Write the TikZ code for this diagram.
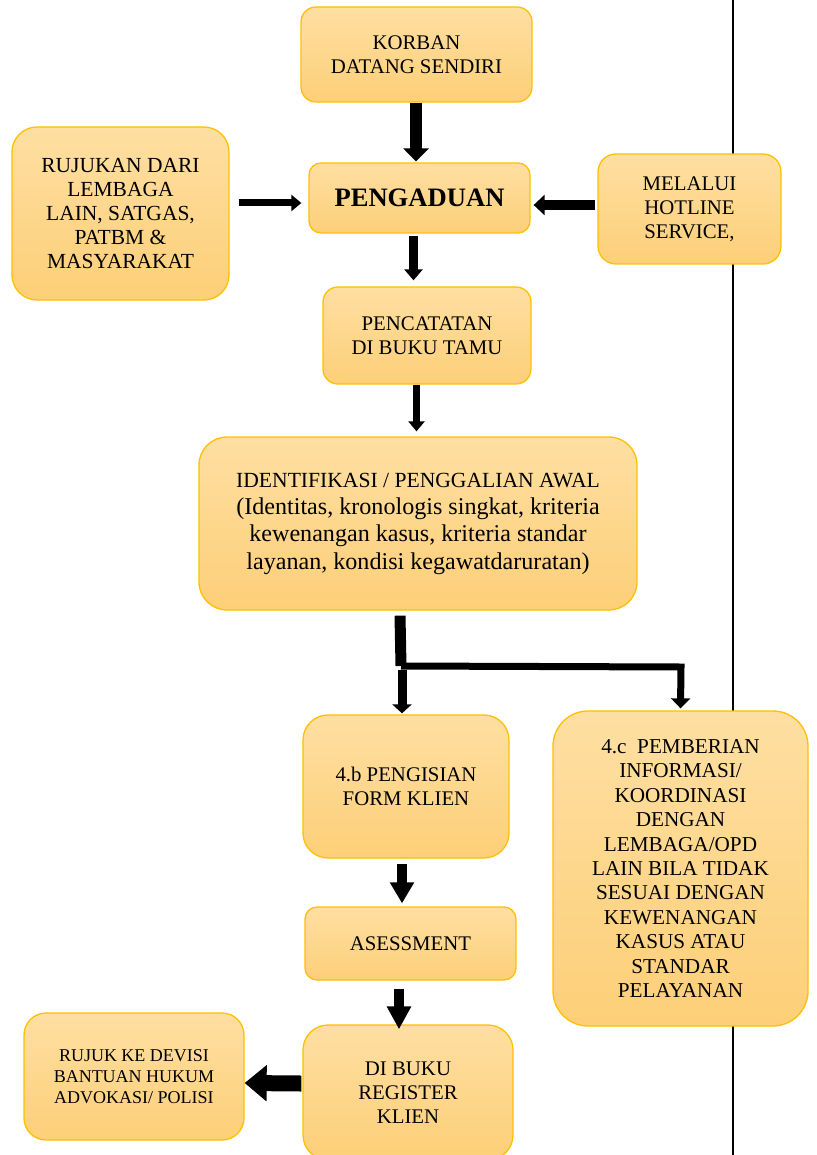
\documentclass[tikz,border=0pt]{standalone}
\usepackage{fontspec}
\setmainfont{Liberation Serif}
\usetikzlibrary{arrows.meta}
\definecolor{boxtop}{HTML}{FEDFA2}
\definecolor{boxbot}{HTML}{FDCF78}
\definecolor{boxline}{HTML}{FFC000}
\tikzset{
  box/.style={draw=boxline, line width=1.3pt, top color=boxtop, bottom color=boxbot,
    align=center, inner sep=0pt, font=\fontsize{20.8}{24}\selectfont},
  blk/.style n args={3}{line width=#1, -{Triangle[width=#2,length=#3]}},
}
\begin{document}
\begin{tikzpicture}[x=1pt,y=-1pt]
\useasboundingbox (0,0) rectangle (816,1155);
% divider line
\draw[line width=2.5pt] (733,0) -- (733,1155);

% boxes
\node[box, minimum width=231pt, minimum height=95pt, rounded corners=15pt] (korban) at (416.5,54.5) {KORBAN\\DATANG SENDIRI};
\node[box, minimum width=217pt, minimum height=173pt, rounded corners=25pt, font=\fontsize{21.5}{24}\selectfont] (rujukan) at (120.5,213.5) {RUJUKAN DARI\\LEMBAGA\\LAIN, SATGAS,\\PATBM \&\\MASYARAKAT};
\node[box, minimum width=221pt, minimum height=70pt, rounded corners=12pt, font=\fontsize{26.6}{30}\selectfont\bfseries] (pengaduan) at (419.5,198) {PENGADUAN};
\node[box, minimum width=183pt, minimum height=110pt, rounded corners=18pt] (melalui) at (689.5,209) {MELALUI\\HOTLINE\\SERVICE,};
\node[box, minimum width=208pt, minimum height=97pt, rounded corners=15pt] (pencatatan) at (427,335.5) {PENCATATAN\\DI BUKU TAMU};
\node[box, minimum width=438pt, minimum height=173pt, rounded corners=28pt, font=\fontsize{24.1}{27.3}\selectfont] (ident) at (418,523.5) {{\fontsize{21.6}{27.3}\selectfont IDENTIFIKASI / PENGGALIAN AWAL}\\(Identitas, kronologis singkat, kriteria\\kewenangan kasus, kriteria standar\\layanan, kondisi kegawatdaruratan)};
\node[box, minimum width=206pt, minimum height=143pt, rounded corners=25pt] (b4) at (406,786.5) {4.b PENGISIAN\\FORM KLIEN};
\node[box, minimum width=255pt, minimum height=315pt, rounded corners=35pt, font=\fontsize{21.2}{24.4}\selectfont] (c4) at (680.5,868.5) {4.c\ \ PEMBERIAN\\INFORMASI/\\KOORDINASI\\DENGAN\\LEMBAGA/OPD\\LAIN BILA TIDAK\\SESUAI DENGAN\\KEWENANGAN\\KASUS ATAU\\STANDAR\\PELAYANAN};
\node[box, minimum width=211pt, minimum height=73pt, rounded corners=12pt] (asess) at (410.5,943.5) {ASESSMENT};
\node[box, minimum width=210pt, minimum height=135pt, rounded corners=25pt] (dibuku) at (408,1092.5) {DI BUKU\\REGISTER\\KLIEN};
\node[box, minimum width=220pt, minimum height=127pt, rounded corners=22pt, font=\fontsize{18}{21}\selectfont] (rujuk) at (134,1076.5) {RUJUK KE DEVISI\\BANTUAN HUKUM\\ADVOKASI/ POLISI};

% connectors
\draw[blk={12pt}{25pt}{13pt}] ([xshift=-0.5pt]korban.south) -- ([xshift=-3.5pt,yshift=1pt]pengaduan.north);
\draw[blk={7pt}{16pt}{10pt}] ([xshift=9pt,yshift=10.5pt]rujukan.east) -- ([xshift=-7pt,yshift=-5pt]pengaduan.west);
\draw[blk={10pt}{20pt}{11pt}] ([xshift=-2pt,yshift=4pt]melalui.west) -- ([xshift=3pt,yshift=-7pt]pengaduan.east);
\draw[blk={9pt}{18pt}{11pt}] ([xshift=-6pt,yshift=-2pt]pengaduan.south) -- ([xshift=-13.5pt,yshift=6pt]pencatatan.north);
\draw[blk={7.5pt}{16pt}{10pt}] ([xshift=-10.5pt]pencatatan.south) -- ([xshift=-1.5pt,yshift=5pt]ident.north);

% branch below the identification step
\coordinate (split) at (401,666);
\coordinate (bend) at (681,667);
\draw[line width=11pt] ([xshift=-18pt,yshift=-5pt]ident.south) -- (split);
\draw[line width=7pt, -{Triangle[width=19pt,length=10pt]}] (split) -- (bend) -- ([yshift=2pt]c4.north);
\draw[blk={9pt}{19pt}{9pt}] ([yshift=-4pt,xshift=1pt]split) -- ([xshift=-4pt,yshift=1pt]b4.north);

\draw[blk={10pt}{23pt}{21pt}] ([xshift=-4pt,yshift=-5pt]b4.south) -- ([xshift=-8.5pt,yshift=3pt]asess.north);
\draw[blk={10pt}{23pt}{23pt}] ([xshift=-11.5pt,yshift=-8pt]asess.south) -- ([xshift=-9pt,yshift=-5pt]dibuku.north);
\draw[blk={16pt}{35pt}{22pt}] ([xshift=-1pt,yshift=9pt]dibuku.west) -- ([yshift=-6.5pt]rujuk.east);
\end{tikzpicture}
\end{document}
